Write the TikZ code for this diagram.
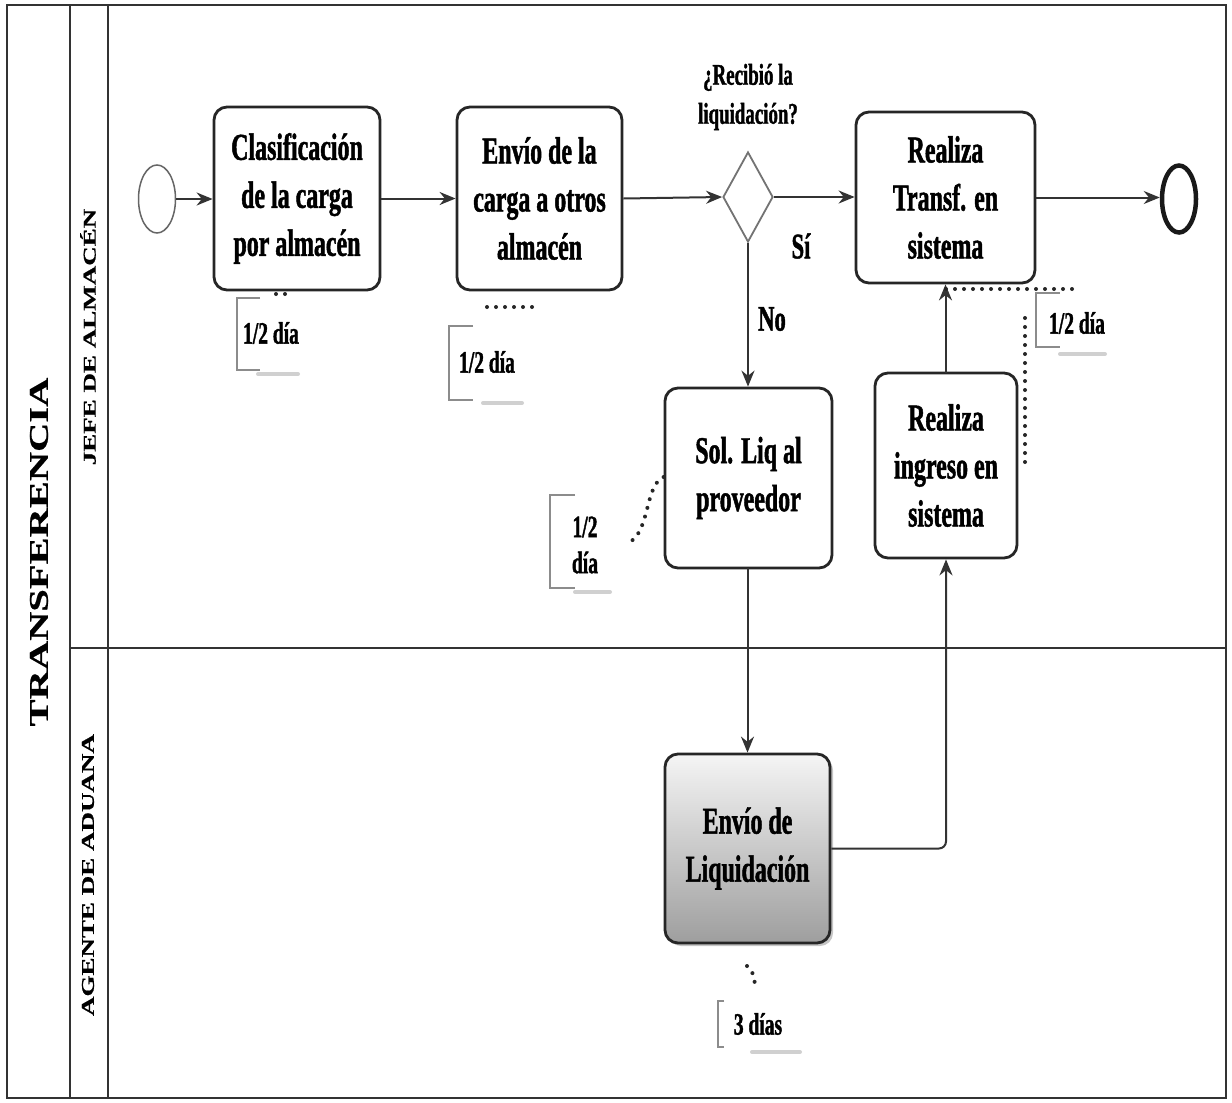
\documentclass[tikz,border=0pt]{standalone}
\usepackage{fontspec}
\usetikzlibrary{arrows.meta,shapes.geometric,shadows}
\newfontfamily\boxfont[FakeStretch=0.63,FakeBold=1.2]{Liberation Serif}
\newfontfamily\lanefont[FakeStretch=1.5,FakeBold=0.8]{Liberation Serif}

\begin{document}
\begin{tikzpicture}[x=1pt,y=-1pt,
  lane/.style={draw=black!80, line width=1.6pt},
  task/.style={draw=black!85, line width=2.8pt, rounded corners=13pt, fill=white,
    align=center, inner sep=0pt, font=\boxfont\bfseries\fontsize{38}{48}\selectfont},
  gate/.style={diamond, draw=black!55, line width=1.8pt, fill=white, inner sep=0pt,
    minimum width=50pt, minimum height=90pt},
  startev/.style={ellipse, draw=black!60, line width=1.5pt, fill=white, inner sep=0pt,
    minimum width=37pt, minimum height=68pt},
  endev/.style={ellipse, draw=black!90, line width=4.5pt, fill=white, inner sep=0pt,
    minimum width=34pt, minimum height=67pt},
  conn/.style={draw=black!80, line width=2pt, -{Stealth[length=16pt,width=13pt]}},
  lbl/.style={align=center, inner sep=0pt, font=\boxfont\bfseries\fontsize{36}{40}\selectfont},
  qlbl/.style={align=center, inner sep=0pt, font=\boxfont\bfseries\fontsize{30}{39}\selectfont},
  note/.style={align=center, inner sep=0pt, font=\boxfont\bfseries\fontsize{31}{36}\selectfont},
  bracket/.style={draw=black!45, line width=1.8pt},
  assoc/.style={draw=black!85, line width=4pt, dash pattern=on 0pt off 9pt, line cap=round},
  haze/.style={draw=black!30, line width=4pt, line cap=round, opacity=0.6},
  lanetitle/.style={rotate=90, inner sep=0pt, font=\lanefont\bfseries}
]
\useasboundingbox (0,0) rectangle (1232,1103);
\fill[white] (0,0) rectangle (1232,1103);

% pool and lanes
\draw[lane] (7,5) rectangle (1226,1098);
\draw[lane] (70,5) -- (70,1098);
\draw[lane] (108,5) -- (108,1098);
\draw[lane] (70,648) -- (1226,648);
\node[lanetitle, font=\lanefont\bfseries\fontsize{27}{30}\selectfont] (pool) at (39,552) {TRANSFERENCIA};
\node[lanetitle, font=\lanefont\bfseries\fontsize{18}{20}\selectfont] (lane1) at (88,337) {JEFE DE ALMACÉN};
\node[lanetitle, font=\lanefont\bfseries\fontsize{18}{20}\selectfont] (lane2) at (88,875) {AGENTE DE ADUANA};

% events, tasks and gateway
\node[startev] (st) at (157,199) {};
\node[task, minimum width=166pt, minimum height=183pt] (clas) at (297,198.5) {Clasificación\\de la carga\\por almacén};
\node[task, minimum width=165pt, minimum height=183pt] (envc) at (539.5,198.5) {Envío de la\\carga a otros\\almacén};
\node[gate] (gw) at (748,197) {};
\node[task, minimum width=179pt, minimum height=171pt] (trf) at (945.5,197.5) {Realiza\\Transf. en\\sistema};
\node[endev] (en) at (1179,199) {};
\node[task, minimum width=142pt, minimum height=185pt] (ing) at (946,465.5) {Realiza\\ingreso en\\sistema};
\node[task, minimum width=167pt, minimum height=180pt] (sol) at (748.5,478) {Sol. Liq al\\proveedor};
\node[task, top color=black!4, bottom color=black!38,
  drop shadow={shadow xshift=3pt, shadow yshift=-3pt, opacity=0.45},
  minimum width=165pt, minimum height=189pt] (liq) at (747.5,848.5) {Envío de\\Liquidación};

% gateway labels
\node[qlbl] (q) at (748,97) {¿Recibió la\\liquidación?};
\node[lbl] (si) at (801,246) {Sí};
\node[lbl] (no) at (772,319) {No};

% sequence flows
\draw[conn] (st.east) -- (st.east -| clas.west);
\draw[conn] (clas.east) -- (envc.west);
\draw[conn] (envc.east) -- (gw.west);
\draw[conn] (gw.east) -- (gw.east -| trf.west);
\draw[conn] (trf.east) -- (trf.east -| en.west);
\draw[conn] (gw.south) -- (gw.south |- sol.north);
\draw[conn] (sol.south) -- (sol.south -| liq.north) -- (liq.north);
\draw[conn, rounded corners=7pt] (liq.east) -- (liq.east -| ing.south) -- (ing.south);
\draw[conn] (ing.north) -- (ing.north -| trf.south) -- (trf.south);

% text annotations
\node[note] (a1) at (271,333) {1/2 día};
\draw[bracket] (260,298) -- (237,298) -- (237,370) -- (260,370);
\draw[haze] (258,374) -- (298,374);

\node[note] (a2) at (487,362) {1/2 día};
\draw[bracket] (473,326) -- (449,326) -- (449,400) -- (473,400);
\draw[haze] (483,403) -- (522,403);

\node[note] (a3) at (1077,323) {1/2 día};
\draw[bracket] (1060,293) -- (1036,293) -- (1036,347) -- (1060,347);
\draw[haze] (1060,354) -- (1105,354);

\node[note] (a4) at (585,545) {1/2\\día};
\draw[bracket] (575,495) -- (550,495) -- (550,588) -- (575,588);
\draw[haze] (575,592) -- (610,592);

\node[note] (a5) at (758,1024) {3 días};
\draw[bracket] (724,1001) -- (718,1001) -- (718,1047) -- (724,1047);
\draw[haze] (752,1052) -- (800,1052);

% associations
\coordinate (c1a) at (276,294);
\coordinate (c1b) at (290,294);
\draw[assoc] (c1a) -- (c1b);
\coordinate (c2a) at (487,307);
\coordinate (c2b) at (540,307);
\draw[assoc] (c2a) -- (c2b);
\coordinate (c3a) at (946,289);
\coordinate (c3b) at (1078,289);
\draw[assoc] (c3a) -- (c3b);
\coordinate (c3c) at (1025,318);
\coordinate (c3d) at (1025,464);
\draw[assoc] (c3c) -- (c3d);
\coordinate (c4) at (630,542);
\draw[assoc] (sol.west |- 0,477) .. controls (645,485) and (650,530) .. (c4);
\coordinate (c5) at (756,990);
\draw[assoc] (747,966) .. controls (753,972) .. (c5);
\end{tikzpicture}
\end{document}
